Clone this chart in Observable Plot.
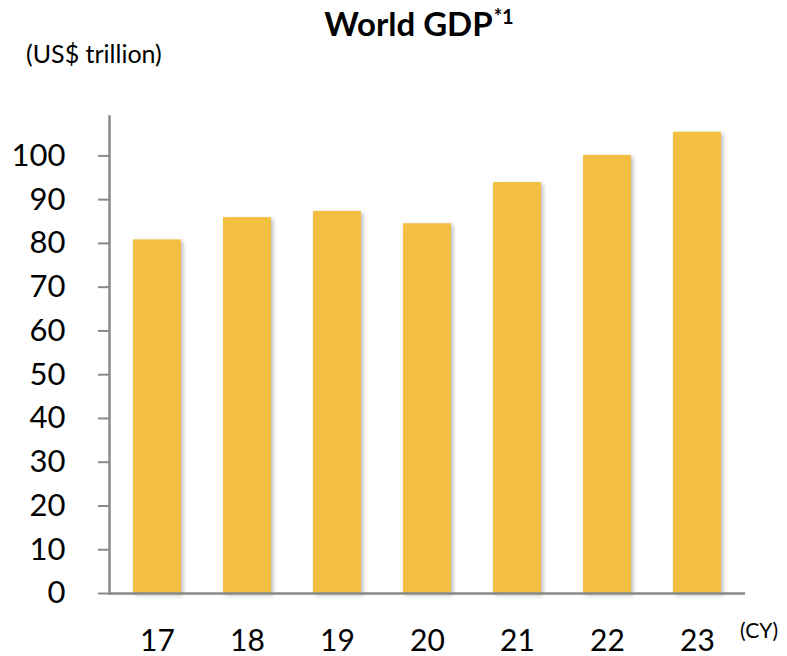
<!DOCTYPE html>
<html>
<head>
<meta charset="utf-8">
<script src="https://cdn.jsdelivr.net/npm/d3@7"></script>
<script src="https://cdn.jsdelivr.net/npm/@observablehq/plot@0.6"></script>
<style>
  body { margin: 0; background: #fff; font-family: Lato, "Open Sans", sans-serif; }
  #wrap { position: relative; width: 787px; height: 656px; }
  #title { position: absolute; left: 0; width: 838px; top: 3px; text-align: center; font-weight: bold; font-size: 33px; color: #000; white-space: nowrap; }
  #title .sup { font-size: 20px; position: relative; top: -12px; margin-left: 1px; }
  #unit { position: absolute; left: 26px; top: 38px; font-size: 25px; color: #000; white-space: nowrap; }
  #cy { position: absolute; left: 740px; top: 617px; font-size: 21px; color: #000; white-space: nowrap; }
  g[aria-label="bar"] rect { filter: drop-shadow(2px 2px 2px rgba(0,0,0,0.28)); }
</style>
</head>
<body>
<div id="wrap">
  <div id="chart"></div>
  <div id="title">World GDP<span class="sup">*1</span></div>
  <div id="unit">(US$ trillion)</div>
  <div id="cy">(CY)</div>
</div>
<script>
const years = ["17", "18", "19", "20", "21", "22", "23"];
const gdp = [80.8, 85.9, 87.3, 84.5, 93.9, 100.1, 105.4];
const yTicks = [0, 10, 20, 30, 40, 50, 60, 70, 80, 90, 100];

const data = years.map((y, i) => ({year: y, value: gdp[i]}));

const chart = Plot.plot({
  width: 787,
  height: 656,
  marginLeft: 109,
  marginRight: 42,
  marginTop: 116,
  marginBottom: 63,
  style: {fontFamily: "Lato, 'Open Sans', sans-serif", color: "#000", background: "#fff"},
  x: {domain: years, paddingInner: 0.471, paddingOuter: 0.242, label: null},
  y: {domain: [0, 109], label: null},
  marks: [
    Plot.barY(data, {x: "year", y: "value", fill: "#F3BF40"}),
    Plot.axisY({ticks: yTicks, tickSize: 11, tickPadding: 33, fontSize: 31, stroke: "#898989", strokeWidth: 2, label: null, strokeOpacity: 1}),
    Plot.axisX({tickSize: 0, tickPadding: 36, fontSize: 30, label: null}),
    Plot.frame({anchor: "left", stroke: "#898989", strokeWidth: 2.5}),
    Plot.ruleY([0], {stroke: "#898989", strokeWidth: 2.5})
  ]
});
document.getElementById("chart").appendChild(chart);
</script>
</body>
</html>
